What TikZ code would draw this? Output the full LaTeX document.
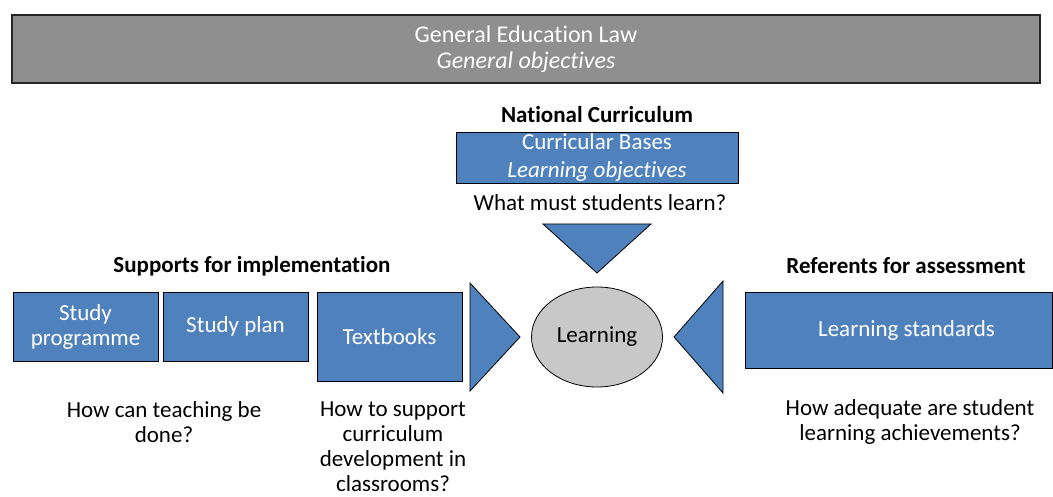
\documentclass[tikz,border=0pt]{standalone}
\usepackage{fontspec}
\setmainfont{Carlito}[Ligatures={NoCommon}]
\usetikzlibrary{shapes.geometric}
\definecolor{obl}{HTML}{4F81BD}
\definecolor{bargray}{HTML}{8F8F8F}
\definecolor{circgray}{HTML}{C8C8C8}
\begin{document}
\begin{tikzpicture}[x=1pt,y=-1pt,
  bluebox/.style={draw=black, line width=0.8pt, fill=obl, text=white, font=\fontsize{23}{25}\selectfont, align=center, inner sep=0pt},
  tri/.style={draw=black, line width=0.8pt, fill=obl},
  heading/.style={font=\fontsize{23}{25}\selectfont\bfseries, align=center},
  question/.style={font=\fontsize{23}{25}\selectfont, align=center}]
\useasboundingbox (0,0) rectangle (1053,497);
% top bar
\node[draw=black!85, line width=1.6pt, fill=bargray, text=white, minimum width=1028pt, minimum height=68pt, inner sep=0pt, align=center, font=\fontsize{24}{26}\selectfont] (law) at (526,49) {General Education Law\\\textit{General objectives}};
% national curriculum
\node[heading] (nch) at (597,115) {National Curriculum};
\node[bluebox, minimum width=282pt, minimum height=51pt, font=\fontsize{23}{28}\selectfont] (cb) at (597,157.5) {Curricular Bases\\\textit{Learning objectives}};
\node[question] (q1) at (600,203) {What must students learn?};
% triangles
\coordinate (tdA) at (543,224); \coordinate (tdB) at (651,224); \coordinate (tdC) at (597,273);
\draw[tri] (tdA) -- (tdB) -- (tdC) -- cycle;
\coordinate (trA) at (470,283); \coordinate (trB) at (470,391); \coordinate (trC) at (520,337);
\draw[tri] (trA) -- (trC) -- (trB) -- cycle;
\coordinate (tlA) at (723,281); \coordinate (tlB) at (723,393); \coordinate (tlC) at (674,337);
\draw[tri] (tlA) -- (tlC) -- (tlB) -- cycle;
% learning circle
\node[ellipse, draw=black, line width=0.8pt, fill=circgray, minimum width=131pt, minimum height=100pt, inner sep=0pt, font=\fontsize{23}{25}\selectfont] (learn) at (597,337) {Learning};
% left side
\node[heading] (sup) at (252,266) {Supports for implementation};
\node[bluebox, minimum width=145pt, minimum height=69pt] (sp) at (85.5,326.5) {Study\\programme};
\node[bluebox, minimum width=145pt, minimum height=69pt] (spl) at (235.5,326.5) {Study plan};
\node[bluebox, minimum width=145pt, minimum height=89pt] (tb) at (389.5,336.5) {Textbooks};
\node[question] (q2) at (164,422) {How can teaching be\\done?};
\node[question] (q3) at (393,447) {How to support\\curriculum\\development in\\classrooms?};
% right side
\node[heading] (ref) at (906,266) {Referents for assessment};
\node[bluebox, minimum width=307pt, minimum height=76pt] (ls) at (898.5,330) {\hspace*{16pt}Learning standards};
\node[question] (q4) at (910,422) {How adequate are student\\learning achievements?};
\end{tikzpicture}
\end{document}
